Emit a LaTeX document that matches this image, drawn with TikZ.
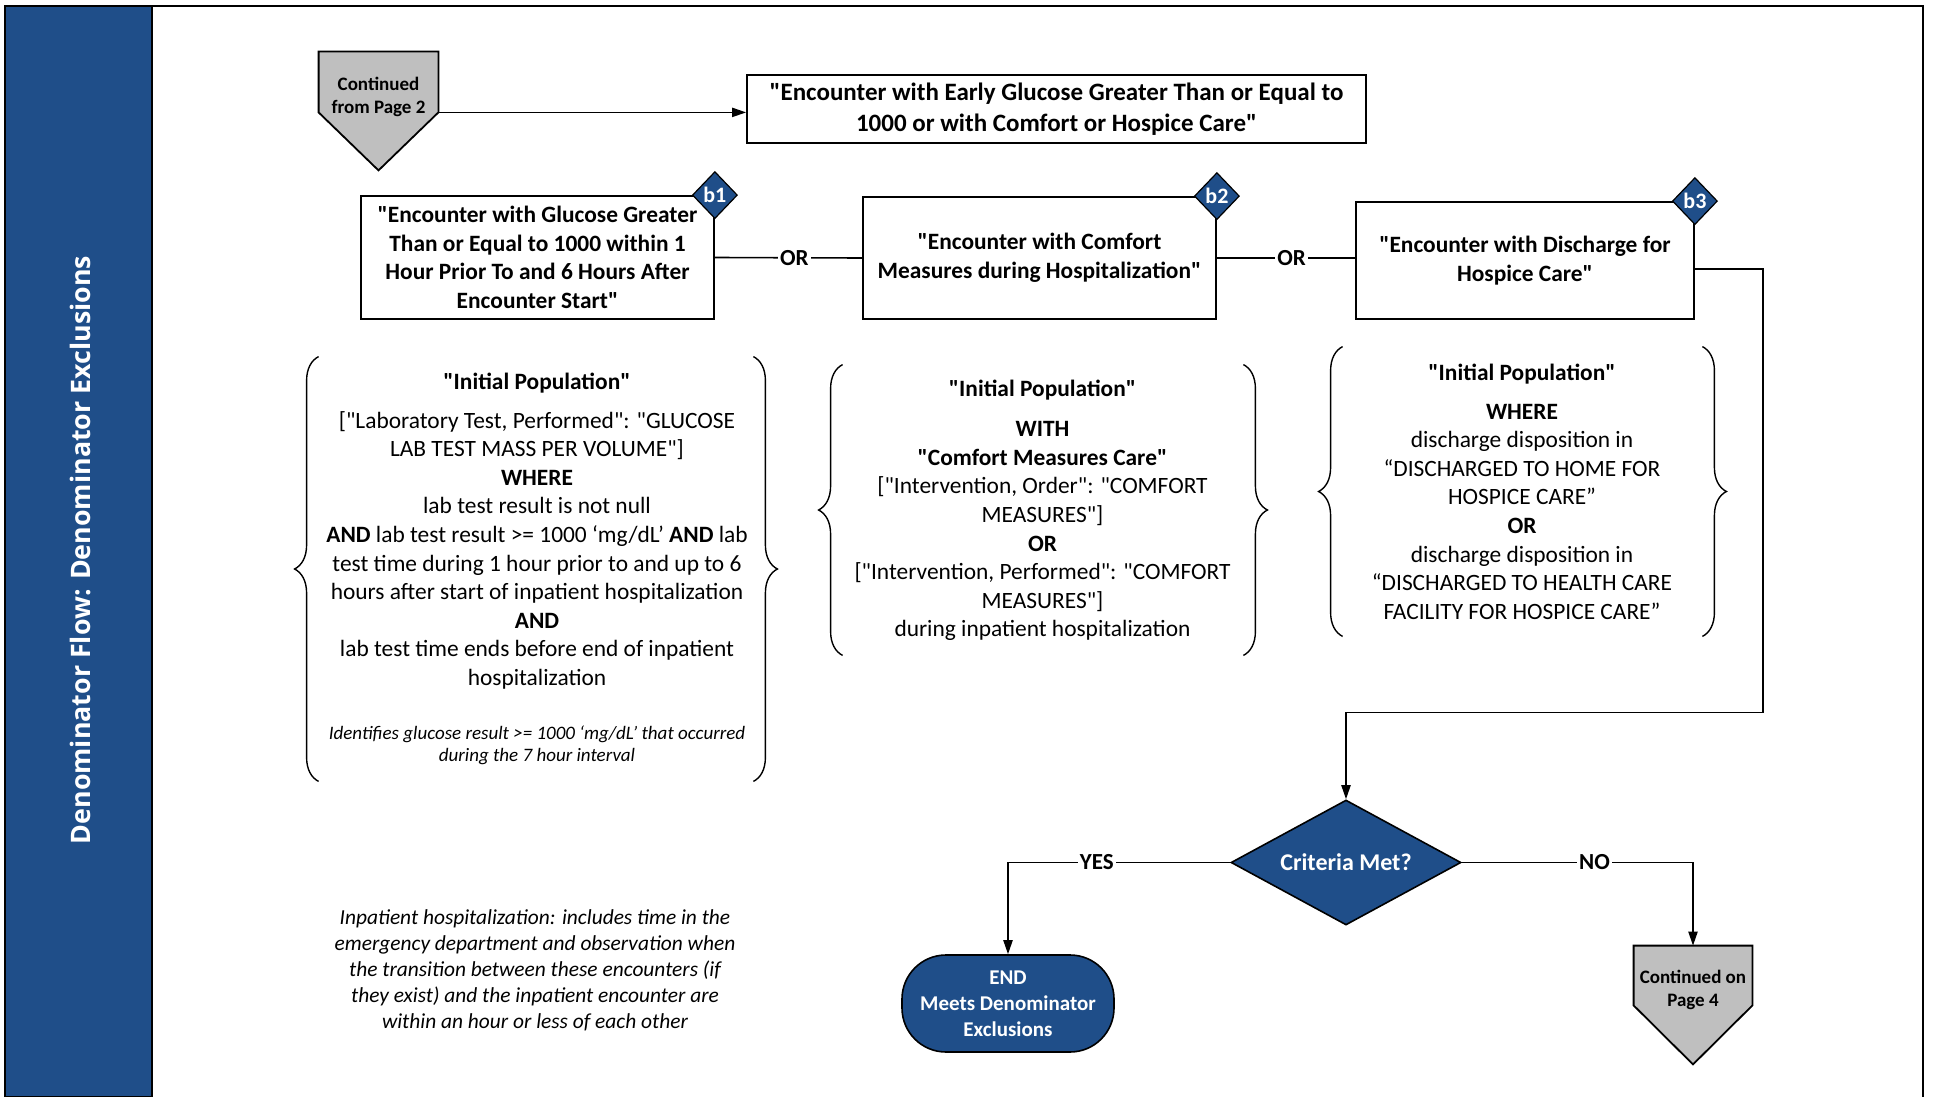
\documentclass[tikz,border=0pt]{standalone}
\usepackage{fontspec}
\setmainfont{Carlito}[Ligatures=TeXOff]
\newfontfamily\sidefont{Open Sans}
\usetikzlibrary{arrows.meta,shapes.geometric,decorations.pathreplacing,calc}
\definecolor{flowblue}{RGB}{31,78,137}
\definecolor{pagegray}{RGB}{191,191,191}

\begin{document}
\begin{tikzpicture}[x=0.5pt,y=-0.5pt,
  body/.style={font=\fontsize{11.7pt}{14.3pt}\selectfont, align=center, inner sep=0pt},
  procbox/.style={draw, line width=0.9pt, font=\fontsize{11.7pt}{14.3pt}\selectfont\bfseries, align=center, inner sep=0pt},
  tag/.style={diamond, draw=black, line width=0.6pt, fill=flowblue, text=white,
    font=\fontsize{11pt}{13pt}\selectfont\bfseries, minimum width=22.5pt, minimum height=23.5pt, inner sep=0pt},
  smalltxt/.style={font=\fontsize{9.5pt}{11.7pt}\selectfont\bfseries, align=center, inner sep=0pt},
  conn/.style={line width=0.8pt},
  arr/.style={conn, -{Triangle[length=7pt,width=4.6pt]}},
  lbl/.style={fill=white, font=\fontsize{11.5pt}{13pt}\selectfont\bfseries, inner sep=1pt},
  curly/.style={decorate, decoration={brace, amplitude=12pt}, line width=0.7pt},
  area/.style={inner sep=0pt, draw=none},
]
\useasboundingbox (0,0) rectangle (1933,1097);

% page frame and side band
\draw[line width=1pt] (5,1097) -- (5,6) -- (1923,6) -- (1923,1097);
\filldraw[fill=flowblue, draw=black, line width=1pt] (5,6) rectangle (152,1097);
\node[rotate=90, text=white, font=\sidefont\bfseries\fontsize{13.4pt}{16pt}\selectfont] (side) at (80,550)
  {Denominator Flow: Denominator Exclusions};

% off-page connector from page 2
\node[area, minimum width=59.5pt, minimum height=30pt] (cont2) at (378.5,82) {};
\draw[fill=pagegray, line width=0.9pt] (cont2.north west) -- (cont2.north east) -- (cont2.south east)
  -- ($(cont2.south)+(0,58)$) -- (cont2.south west) -- cycle;
\node[smalltxt] (cont2txt) at (378.5,97) {Continued\\from Page 2};

% top definition box
\node[procbox, font=\fontsize{12.5pt}{15.4pt}\selectfont\bfseries, minimum width=309.5pt, minimum height=34pt] (top) at (1056.5,109)
  {"Encounter with Early Glucose Greater Than or Equal to\\1000 or with Comfort or Hospice Care"};
\draw[arr] (cont2.south east) -- (cont2.south east -| top.west);

% the three alternative encounter boxes
\node[procbox, minimum width=176.5pt, minimum height=61.5pt] (b1) at (537.5,257.5)
  {"Encounter with Glucose Greater\\Than or Equal to 1000 within 1\\Hour Prior To and 6 Hours After\\Encounter Start"};
\node[procbox, minimum width=176.5pt, minimum height=61pt] (b2) at (1039.5,258)
  {"Encounter with Comfort\\Measures during Hospitalization"};
\node[procbox, minimum width=169pt, minimum height=58.5pt] (b3) at (1525,260.5)
  {"Encounter with Discharge for\\Hospice Care"};

\draw[conn] (b1.east) -- node[lbl, pos=0.54] {OR} (b2.west);
\draw[conn] (b2.east) -- node[lbl, pos=0.54] {OR} (b2.east -| b3.west);

\node[tag] (t1) at (b1.north east) {b1};
\node[tag] (t2) at (b2.north east) {b2};
\node[tag] (t3) at (b3.north east) {b3};

% criteria blocks
\node[area, minimum width=217pt, minimum height=212pt] (blk1) at (536,569) {};
\draw[curly] (blk1.south west) -- (blk1.north west);
\draw[curly] (blk1.north east) -- (blk1.south east);
\node[body] (ip1) at (537,531)
  {\textbf{"Initial Population"}\\[5.2pt]
   {[}"Laboratory Test, Performed": "GLUCOSE\\
   LAB TEST MASS PER VOLUME"]\\
   \textbf{WHERE}\\
   lab test result is not null\\
   \textbf{AND} lab test result >= 1000 ‘mg/dL’ \textbf{AND} lab\\
   test time during 1 hour prior to and up to 6\\
   hours after start of inpatient hospitalization\\
   \textbf{AND}\\
   lab test time ends before end of inpatient\\
   hospitalization};
\node[font=\fontsize{9.5pt}{11pt}\selectfont\itshape, align=center, inner sep=0pt] (ip1note) at (537,745)
  {Identifies glucose result >= 1000 ‘mg/dL’ that occurred\\during the 7 hour interval};

\node[area, minimum width=200pt, minimum height=145pt] (blk2) at (1043,510) {};
\draw[curly] (blk2.south west) -- (blk2.north west);
\draw[curly] (blk2.north east) -- (blk2.south east);
\node[body] (ip2) at (1042.5,510.5)
  {\textbf{"Initial Population"}\\[5.7pt]
   \textbf{WITH}\\
   \textbf{"Comfort Measures Care"}\\
   {[}"Intervention, Order": "COMFORT\\
   MEASURES"]\\
   \textbf{OR}\\
   {[}"Intervention, Performed": "COMFORT\\
   MEASURES"]\\
   during inpatient hospitalization};

\node[area, minimum width=179.5pt, minimum height=144.5pt] (blk3) at (1522.5,491.5) {};
\draw[curly] (blk3.south west) -- (blk3.north west);
\draw[curly] (blk3.north east) -- (blk3.south east);
\node[body] (ip3) at (1522,491.5)
  {\textbf{"Initial Population"}\\[5.2pt]
   \textbf{WHERE}\\
   discharge disposition in\\
   “DISCHARGED TO HOME FOR\\
   HOSPICE CARE”\\
   \textbf{OR}\\
   discharge disposition in\\
   “DISCHARGED TO HEALTH CARE\\
   FACILITY FOR HOSPICE CARE”};

% decision
\node[diamond, aspect=1.84, draw=black, line width=0.8pt, fill=flowblue, text=white,
  font=\fontsize{12pt}{14pt}\selectfont\bfseries, minimum width=115pt, minimum height=62.5pt, inner sep=0pt]
  (crit) at (1346,862.5) {Criteria Met?};
\coordinate (bend) at (1763,712.5);
\draw[arr] ($(b3.east)+(0,8.5)$) -| (bend) -| (crit.north);

% outcomes
\node[draw=black, line width=0.8pt, fill=flowblue, text=white, rounded corners=22pt,
  minimum width=106pt, minimum height=48.5pt, font=\fontsize{10.5pt}{13pt}\selectfont\bfseries,
  align=center, inner sep=0pt] (endn) at (1008,1003.5) {END\\Meets Denominator\\Exclusions};

\node[area, minimum width=59pt, minimum height=29.5pt] (cont4) at (1693,975.5) {};
\draw[fill=pagegray, line width=0.9pt] (cont4.north west) -- (cont4.north east) -- (cont4.south east)
  -- ($(cont4.south)+(0,59)$) -- (cont4.south west) -- cycle;
\node[smalltxt] (cont4txt) at (1693,990) {Continued on\\Page 4};

\draw[arr] (crit.west) -| node[lbl, pos=0.3] {YES} (endn.north);
\draw[arr] (crit.east) -| node[lbl, pos=0.287] {NO} (cont4.north);

% footnote on inpatient hospitalization
\node[font=\fontsize{10.7pt}{13pt}\selectfont\itshape, align=center, inner sep=0pt] (hosp) at (535,970)
  {Inpatient hospitalization: includes time in the\\
   emergency department and observation when\\
   the transition between these encounters (if\\
   they exist) and the inpatient encounter are\\
   within an hour or less of each other};
\end{tikzpicture}
\end{document}
